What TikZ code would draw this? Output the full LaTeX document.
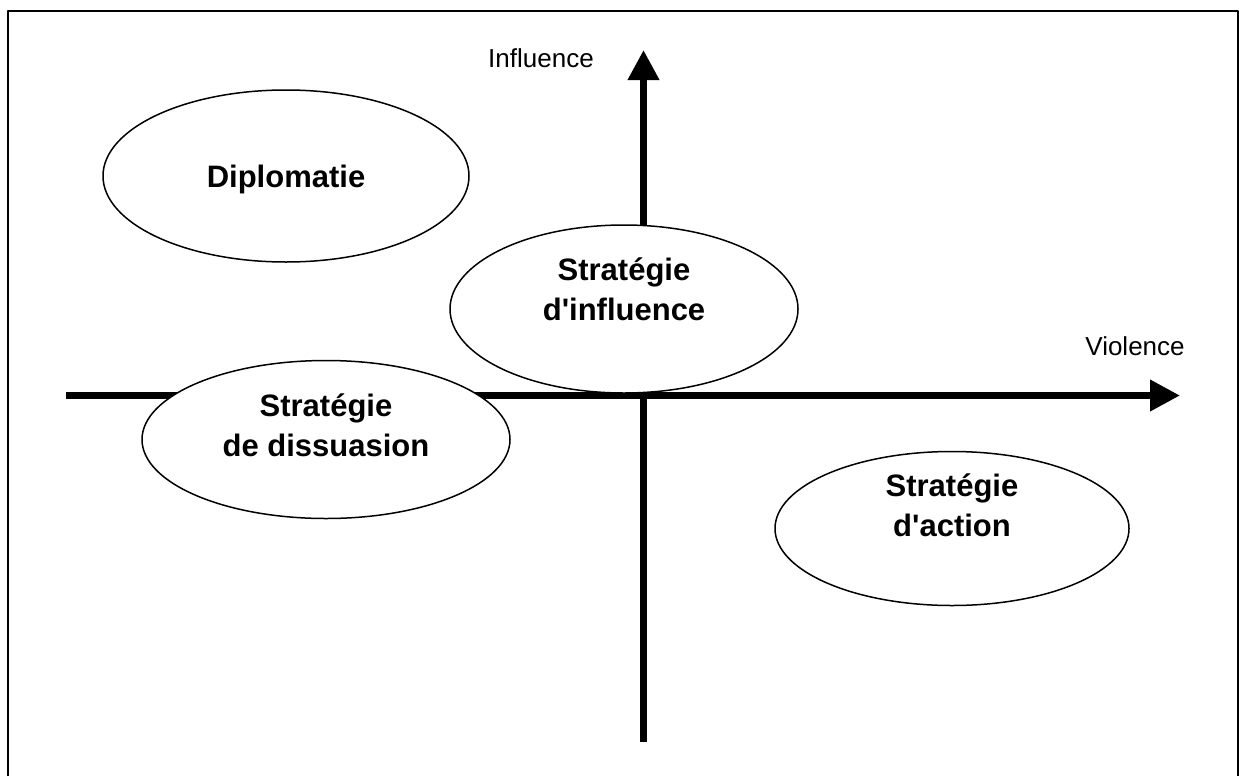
\documentclass[tikz,border=0pt]{standalone}
\usepackage{fontspec}
\setmainfont{Liberation Sans}[Ligatures=TeXOff]
\usepackage{tikz}
\usetikzlibrary{arrows.meta,shapes.geometric,positioning}
\tikzset{
    axisline/.style={line width=3.5pt, -{Triangle[length=15pt,width=15pt]}},
    zone/.style={ellipse, draw, fill=white, line width=0.75pt, inner sep=0pt,
        align=center, font=\fontsize{15.5}{20}\selectfont\bfseries},
    axislabel/.style={inner sep=0pt, font=\fontsize{13}{15}\selectfont}
}

\begin{document}
\begin{tikzpicture}[x=0.5pt,y=-0.5pt, line join=round]
    \useasboundingbox (0,0) rectangle (1245,776);
    % frame
    \draw[line width=1pt] (8,776) -- (8,11) -- (1238,11) -- (1238,776);
    % axes
    \coordinate (h-start) at (66,395.5);
    \coordinate (h-end) at (1180,395.5);
    \coordinate (v-start) at (643.5,742);
    \coordinate (v-end) at (643.5,50);
    \draw[axisline] (h-start) -- (h-end);
    \draw[axisline] (v-start) -- (v-end);
    \node[axislabel] (influence) at (541,58) {Influence};
    \node[axislabel] (violence) at (1135,346) {Violence};
    % zones
    \node[zone, minimum width=183pt, minimum height=86pt, text depth=0pt] (diplo) at (286,176) {Diplomatie};
    \node[zone, minimum width=174pt, minimum height=84pt, text depth=20pt] (infl) at (624,309) {Stratégie\\d'influence};
    \node[zone, minimum width=184pt, minimum height=79pt, text depth=14pt] (dissu) at (326,439.5) {Stratégie\\de dissuasion};
    \node[zone, minimum width=177pt, minimum height=77pt, text depth=23pt] (action) at (952,528.5) {Stratégie\\d'action};
\end{tikzpicture}
\end{document}
